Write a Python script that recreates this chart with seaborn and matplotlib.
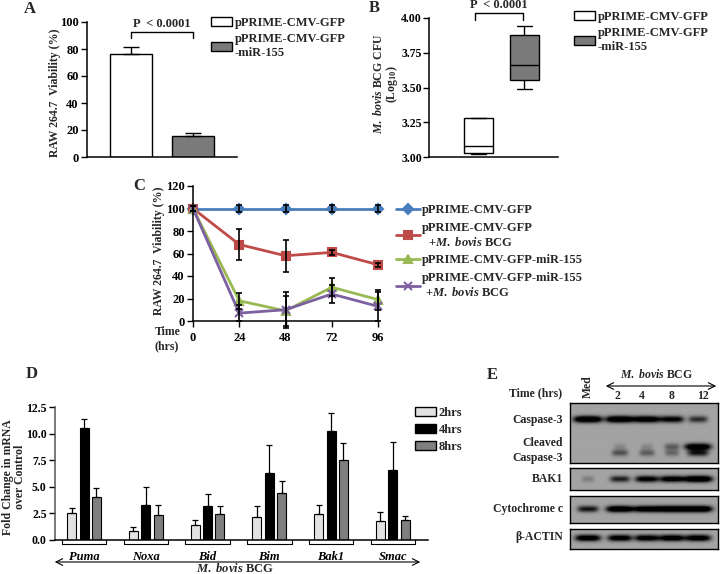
import numpy as np
import pandas as pd
import seaborn as sns
import matplotlib.pyplot as plt
from matplotlib.patches import Patch
from matplotlib.lines import Line2D

# ---------------- data ----------------
# A: macrophage viability
a_groups = ["pPRIME-CMV-GFP", "pPRIME-CMV-GFP\n-miR-155"]
a_viability = [76.0, 15.5]
a_err = [5.5, 2.2]

# B: CFU (log10), five-number summaries
b_gfp = [3.02, 3.03, 3.08, 3.28, 3.28]
b_mir = [3.49, 3.555, 3.66, 3.88, 3.94]

# C: viability time course
c_hours = [0, 24, 48, 72, 96]
c_series = ["pPRIME-CMV-GFP",
            "pPRIME-CMV-GFP\n  +$\\mathit{M.\\ bovis}$ BCG",
            "pPRIME-CMV-GFP-miR-155",
            "pPRIME-CMV-GFP-miR-155\n +$\\mathit{M.\\ bovis}$ BCG"]
c_gfp = [100, 100, 100, 100, 100]
c_gfp_err = [2, 3, 3, 3, 3]
c_gfp_bcg = [100, 68, 58, 61, 50]
c_gfp_bcg_err = [2, 14, 14, 2, 2]
c_mir = [100, 18, 9, 30, 19]
c_mir_err = [2, 7, 13, 8, 9]
c_mir_bcg = [100, 7, 10, 24, 13]
c_mir_bcg_err = [2, 7, 16, 8, 13]

# D: fold change in mRNA
d_genes = ["Puma", "Noxa", "Bid", "Bim", "Bak1", "Smac"]
d_times = ["2hrs", "4hrs", "8hrs"]
d_2h = [2.5, 0.8, 1.4, 2.15, 2.45, 1.8]
d_2h_err = [0.55, 0.45, 0.5, 1.0, 0.8, 0.85]
d_4h = [10.5, 3.3, 3.15, 6.3, 10.2, 6.6]
d_4h_err = [0.9, 1.65, 1.15, 2.65, 1.75, 2.6]
d_8h = [4.05, 2.35, 2.45, 4.4, 7.55, 1.9]
d_8h_err = [0.85, 0.9, 0.75, 1.15, 1.55, 0.35]

# E: western blot band intensities (Med, 2, 4, 8, 12 h)
e_lanes = ["2", "4", "8", "12"]
e_casp3 = [1.0, 1.0, 0.9, 0.75, 0.5]
e_cleaved_hi = [0.0, 0.12, 0.12, 0.3, 0.9]
e_cleaved_lo = [0.0, 0.35, 0.3, 0.25, 0.6]
e_bak1 = [0.15, 0.55, 0.75, 0.8, 1.0]
e_cytc = [0.6, 0.95, 0.9, 1.0, 1.0]
e_actin = [0.85, 0.8, 0.8, 0.85, 0.85]

# ---------------- style ----------------
sns.set_theme(style="ticks")
plt.rcParams["font.family"] = ["Liberation Serif", "DejaVu Serif"]
plt.rcParams["font.weight"] = "bold"
plt.rcParams["axes.labelweight"] = "bold"
plt.rcParams["mathtext.fontset"] = "custom"
plt.rcParams["mathtext.rm"] = "Liberation Serif:bold"
plt.rcParams["mathtext.it"] = "Liberation Serif:italic:bold"
plt.rcParams["mathtext.bf"] = "Liberation Serif:bold"
plt.rcParams["axes.edgecolor"] = "black"
plt.rcParams["xtick.color"] = "black"
plt.rcParams["ytick.color"] = "black"

fig = plt.figure(figsize=(7.2, 5.74), dpi=100)


def px_axes(l, t, r, b):
    return fig.add_axes([l / 720, 1 - b / 574, (r - l) / 720, (b - t) / 574])


def style_axis(ax, size=9):
    sns.despine(ax=ax)
    ax.tick_params(direction="out", length=4, width=1, labelsize=size, pad=2)
    for s in ("left", "bottom"):
        ax.spines[s].set_linewidth(1.1)
    for lab in ax.get_xticklabels() + ax.get_yticklabels():
        lab.set_fontweight("bold")


white, gray = "white", "#7a7a7a"

# ---------------- A ----------------
axA = px_axes(87, 22, 237, 157)
sns.barplot(x=a_groups, y=a_viability, hue=a_groups, palette=[white, gray],
            edgecolor="black", linewidth=1, width=0.68, legend=False, ax=axA)
axA.errorbar([0, 1], a_viability, yerr=[[0, 0], a_err], fmt="none",
             ecolor="black", elinewidth=1, capsize=6, capthick=1)
axA.set_xlim(-0.71, 1.71)
axA.set_ylim(0, 100)
axA.set_yticks([0, 20, 40, 60, 80, 100])
axA.set_xticks([])
axA.set_xlabel("")
axA.set_ylabel("")
style_axis(axA)
axA.plot([0, 0, 1, 1], [88, 92.6, 92.6, 88], color="black", lw=1, clip_on=False)
axA.text(0.5, 98.5, "P  < 0.0001", ha="center", va="center", fontsize=9,
         fontweight="bold")
axA.legend(handles=[Patch(facecolor=white, edgecolor="black", label=a_groups[0]),
                    Patch(facecolor=gray, edgecolor="black", label=a_groups[1])],
           loc="upper left", bbox_to_anchor=(211 / 720, 1 - 17 / 574),
           bbox_transform=fig.transFigure, frameon=False, fontsize=9,
           handlelength=1.7, handleheight=0.7, handletextpad=0.2,
           labelspacing=0.35, borderpad=0, borderaxespad=0)

# ---------------- B ----------------
axB = px_axes(429, 18, 558, 157)
df_b = pd.DataFrame({"group": [a_groups[0]] * 5 + [a_groups[1]] * 5,
                     "cfu": b_gfp + b_mir})
sns.boxplot(data=df_b, x="group", y="cfu", hue="group", palette=[white, gray],
            width=0.63, whis=np.inf, linecolor="black", linewidth=1,
            legend=False, ax=axB)
axB.set_xlim(-1.07, 1.73)
axB.set_ylim(3.0, 4.0)
axB.set_yticks([3.0, 3.25, 3.5, 3.75, 4.0])
axB.set_yticklabels(["3.00", "3.25", "3.50", "3.75", "4.00"])
axB.set_xticks([])
axB.set_xlabel("")
axB.set_ylabel("")
style_axis(axB, size=8.5)
axB.tick_params(axis="y", pad=1)
axB.plot([-0.08, -0.08, 0.97, 0.97], [3.986, 4.036, 4.036, 3.986],
         color="black", lw=1, clip_on=False)
axB.text(0.45, 4.095, "P  < 0.0001", ha="center", va="center", fontsize=9,
         fontweight="bold")
axB.legend(handles=[Patch(facecolor=white, edgecolor="black", label=a_groups[0]),
                    Patch(facecolor=gray, edgecolor="black", label=a_groups[1])],
           loc="upper left", bbox_to_anchor=(574 / 720, 1 - 11 / 574),
           bbox_transform=fig.transFigure, frameon=False, fontsize=9,
           handlelength=1.7, handleheight=0.7, handletextpad=0.2,
           labelspacing=0.35, borderpad=0, borderaxespad=0)

# ---------------- C ----------------
axC = px_axes(193, 186, 378, 321)
c_cols = ["#4A7EBB", "#BE4B48", "#98B954", "#7D60A0"]
c_marks = ["D", "s", "^", "x"]
c_vals = [c_gfp, c_gfp_bcg, c_mir, c_mir_bcg]
c_errs = [c_gfp_err, c_gfp_bcg_err, c_mir_err, c_mir_bcg_err]
for vals, col, m in zip(c_vals, c_cols, c_marks):
    sns.lineplot(x=c_hours, y=vals, color=col, marker=m, linewidth=2,
                 markersize=5.5, markeredgecolor=col, markeredgewidth=1.5,
                 ax=axC)
for ln in axC.lines:
    ln.set_clip_on(False)
for vals, errs in zip(c_vals, c_errs):
    axC.errorbar(c_hours, vals, yerr=errs, fmt="none", ecolor="black",
                 elinewidth=1.2, capsize=2.5, capthick=1.2, clip_on=False,
                 zorder=4)
axC.set_xlim(0, 96)
axC.set_ylim(0, 120)
axC.set_xticks(c_hours)
axC.set_yticks([0, 20, 40, 60, 80, 100, 120])
axC.set_xlabel("")
axC.set_ylabel("")
style_axis(axC)
axC.tick_params(axis="x", pad=4)
axC.legend(handles=[Line2D([], [], color=c, marker=m, lw=2, ms=5.5, mew=1.5,
                           mec=c, label=s)
                    for c, m, s in zip(c_cols, c_marks, c_series)],
           loc="upper left", bbox_to_anchor=(396 / 720, 1 - 204 / 574),
           bbox_transform=fig.transFigure, frameon=False, fontsize=9,
           handlelength=1.9, handletextpad=0.15, labelspacing=0.45,
           borderpad=0, borderaxespad=0)

# ---------------- D ----------------
axD = px_axes(55, 407, 428, 540)
d_cols = ["#e2e2e2", "black", "#7f7f7f"]
d_vals = [d_2h, d_4h, d_8h]
d_errs = [d_2h_err, d_4h_err, d_8h_err]
df_d = pd.DataFrame({"gene": d_genes * 3, "fold": sum(d_vals, []),
                     "time": [t for t in d_times for _ in d_genes]})
sns.barplot(data=df_d, x="gene", y="fold", hue="time", hue_order=d_times,
            palette=d_cols, edgecolor="black", linewidth=0.8, width=0.6,
            gap=0.27, legend=False, ax=axD)
for j, (vals, errs) in enumerate(zip(d_vals, d_errs)):
    xs = [i + (j - 1) * 0.2 for i in range(len(d_genes))]
    axD.errorbar(xs, vals, yerr=[[0] * len(vals), errs], fmt="none",
                 ecolor="black", elinewidth=0.9, capsize=2, capthick=0.9)
axD.set_xlim(-0.47, 5.57)
axD.set_ylim(0, 12.5)
axD.set_yticks([0, 2.5, 5, 7.5, 10, 12.5])
axD.set_yticklabels(["0.0", "2.5", "5.0", "7.5", "10.0", "12.5"])
axD.set_xlabel("")
axD.set_ylabel("")
style_axis(axD, size=8.5)
axD.spines["left"].set_color("#555555")
axD.tick_params(axis="x", length=0, pad=8)
for lab in axD.get_xticklabels():
    lab.set_fontstyle("italic")
    lab.set_fontsize(9)
for i in range(len(d_genes)):
    axD.plot([i - 0.36, i - 0.36, i + 0.36, i + 0.36], [0, -0.4, -0.4, 0],
             color="black", lw=0.8, clip_on=False)
axD.legend(handles=[Patch(facecolor=c, edgecolor="black", label=t)
                    for c, t in zip(d_cols, d_times)],
           loc="upper left", bbox_to_anchor=(415 / 720, 1 - 407 / 574),
           bbox_transform=fig.transFigure, frameon=False, fontsize=9,
           handlelength=1.7, handleheight=0.65, handletextpad=0.2,
           labelspacing=0.4, borderpad=0, borderaxespad=0)

# ---------------- E (blot) ----------------
lane_x = [18, 50, 77, 102, 128]


def blot(ax, bands, height):
    X, Y = np.meshgrid(np.arange(148) + 0.5, np.arange(height) + 0.5)
    dark = np.zeros_like(X)
    for row_y, vals in bands:
        for cx, v in zip(lane_x, vals):
            sx = 4 + 8 * v
            dark += v * np.exp(-0.5 * ((X - cx) / sx) ** 4
                               - 0.5 * ((Y - row_y) / 2.3) ** 2)
    img = 0.64 * (1 - np.clip(1.5 * dark, 0, 1))
    ax.imshow(img, cmap="gray", vmin=0, vmax=1, extent=(0, 148, height, 0),
              aspect="auto", interpolation="bilinear")
    ax.set_xticks([])
    ax.set_yticks([])
    for s in ax.spines.values():
        s.set_visible(True)
        s.set_color("black")
        s.set_linewidth(1)


blot(px_axes(570, 403, 718, 463), [(17, e_casp3), (44, e_cleaved_hi),
                                   (50, e_cleaved_lo)], 60)
blot(px_axes(570, 468, 718, 490), [(11, e_bak1)], 22)
blot(px_axes(570, 496, 718, 523), [(13, e_cytc)], 27)
blot(px_axes(570, 529, 718, 549), [(9, e_actin)], 20)

# ---------------- overlay text ----------------
ov = fig.add_axes([0, 0, 1, 1])
ov.set_xlim(0, 720)
ov.set_ylim(574, 0)
ov.axis("off")
ov.patch.set_alpha(0)


def t(x, y, s, size=9, **kw):
    kw.setdefault("ha", "center")
    kw.setdefault("va", "center")
    ov.text(x, y, s, fontsize=size, fontweight="bold", **kw)


for lab, x, y in [("A", 30, 9), ("B", 374, 8), ("C", 139, 186),
                  ("D", 32, 374), ("E", 492, 375)]:
    t(x, y, lab, size=12)

t(55, 93, "RAW 264.7  Viability (%)", size=8.5, rotation=90)
t(386, 84, "$\\mathit{M.\\ bovis}$ BCG CFU\n(Log$_{10}$)", size=8.5,
  rotation=90, multialignment="center", linespacing=1.0)
t(159, 251, "RAW 264.7  Viability (%)", size=8.5, rotation=90)
t(168, 332, "Time", size=8.5)
t(167, 346, "(hrs)", size=8.5)
t(14, 477, "Fold Change in mRNA\nover Control", size=8.5, rotation=90,
  multialignment="center", linespacing=1.05)
ov.annotate("", xy=(52, 562), xytext=(423, 562),
            arrowprops=dict(arrowstyle="<->", lw=0.8, color="black"))
t(235, 569, r"$\mathit{M.\ bovis}$ BCG", size=9)

t(536, 393, "Time (hrs)", size=8.5)
t(588, 387, "Med", size=8.5, rotation=90)
for lab, x in zip(e_lanes, [617, 642, 672, 703]):
    t(x, 396, lab, size=8.5)
ov.annotate("", xy=(603, 386), xytext=(719, 386),
            arrowprops=dict(arrowstyle="<->", lw=0.8, color="black"))
t(657, 375, r"$\mathit{M.\ bovis}$ BCG", size=8.5)
for lab, y in [("Caspase-3", 420), ("Cleaved", 443), ("Caspase-3", 458),
               ("BAK1", 479), ("Cytochrome c", 509), ("\u03b2-ACTIN", 537)]:
    t(563, y, lab, size=8.5, ha="right")

fig.savefig("out.png", dpi=100)
